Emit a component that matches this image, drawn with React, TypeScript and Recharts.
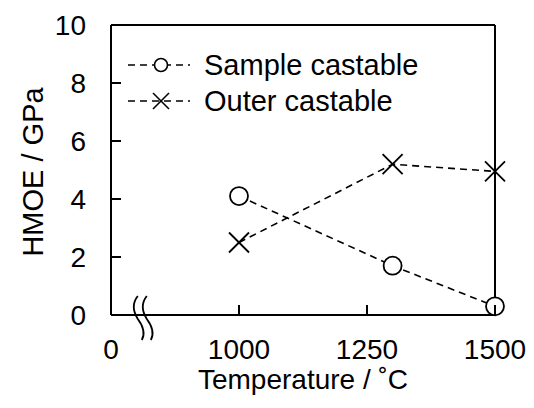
import React from 'react';
import {
  LineChart,
  Line,
  XAxis,
  YAxis,
  Legend,
  ReferenceLine,
  ReferenceDot
} from 'recharts';

// temperatures (°C) and HMOE (GPa)
const temps = [1000, 1300, 1500];
const sampleCastable = [4.1, 1.7, 0.3];
const outerCastable = [2.5, 5.2, 4.95];

// broken x axis: the first tick sits where "0" is printed
const xTicks = [750, 1000, 1250, 1500];
const xTickLabels = ['0', '1000', '1250', '1500'];
const yTicks = [0, 2, 4, 6, 8, 10];
const axisBreakAt = 816;

const seriesNames = ['Sample castable', 'Outer castable'];

const FONT = '"Liberation Sans", Arial, sans-serif';
const FS = 28;

// plot box edges (margin + axis size)
const PLOT_LEFT = 111;
const PLOT_BOTTOM = 315;

const data = temps.map((t, i) => ({
  temp: t,
  sample: sampleCastable[i],
  outer: outerCastable[i]
}));

const CircleDot = (props: any) => {
  const { cx, cy, index } = props;
  if (cx == null || cy == null) return null;
  return <circle key={`c-${index}`} cx={cx} cy={cy} r={9} fill="#fff" stroke="#000" strokeWidth={1.8} />;
};

const CrossDot = (props: any) => {
  const { cx, cy, index } = props;
  if (cx == null || cy == null) return null;
  const s = 10;
  return (
    <g key={`x-${index}`} stroke="#000" strokeWidth={1.8}>
      <line x1={cx - s} y1={cy - s} x2={cx + s} y2={cy + s} />
      <line x1={cx - s} y1={cy + s} x2={cx + s} y2={cy - s} />
    </g>
  );
};

const YTick = (props: any) => {
  const { y, payload } = props;
  return (
    <g>
      <line x1={PLOT_LEFT} y1={y} x2={PLOT_LEFT + 10} y2={y} stroke="#000" strokeWidth={2} />
      <text x={PLOT_LEFT - 25} y={y} dy="0.36em" textAnchor="end" fontFamily={FONT} fontSize={FS} fill="#000">
        {payload.value}
      </text>
    </g>
  );
};

const XTick = (props: any) => {
  const { x, payload, index } = props;
  return (
    <g>
      <line x1={x} y1={PLOT_BOTTOM} x2={x} y2={PLOT_BOTTOM - 10} stroke="#000" strokeWidth={2} />
      <text x={x} y={PLOT_BOTTOM + 44} textAnchor="middle" fontFamily={FONT} fontSize={FS} fill="#000">
        {xTickLabels[index] ?? payload.value}
      </text>
    </g>
  );
};

const AxisBreak = (props: any) => {
  const { cx, cy } = props;
  if (cx == null || cy == null) return null;
  const path = (dx: number) =>
    `M ${cx - 3 + dx} ${cy - 19} Q ${cx - 11 + dx} ${cy - 9} ${cx - 3 + dx} ${cy + 4} Q ${cx + 6 + dx} ${cy + 16} ${cx + 1 + dx} ${cy + 25}`;
  return (
    <g fill="none" stroke="#000" strokeWidth={1.8}>
      <path d={path(-4)} />
      <path d={path(5)} />
    </g>
  );
};

const LegendContent = () => (
  <div style={{ fontFamily: FONT, fontSize: 29, color: '#000', lineHeight: '36px' }}>
    {seriesNames.map((name, i) => (
      <div key={name} style={{ display: 'flex', alignItems: 'center', height: 36 }}>
        <svg width={70} height={24} style={{ marginRight: 8 }}>
          <line x1={2} y1={12} x2={64} y2={12} stroke="#000" strokeWidth={1.6} strokeDasharray="7 5" />
          {i === 0 ? (
            <circle cx={35} cy={12} r={6.5} fill="#fff" stroke="#000" strokeWidth={1.6} />
          ) : (
            <g stroke="#000" strokeWidth={1.6}>
              <line x1={27} y1={4} x2={43} y2={20} />
              <line x1={27} y1={20} x2={43} y2={4} />
            </g>
          )}
        </svg>
        <span>{name}</span>
      </div>
    ))}
  </div>
);

const App: React.FC = () => {
  return (
    <div style={{ position: 'absolute', left: 0, top: 0, background: '#fff' }}>
      <LineChart
        width={534}
        height={408}
        data={data}
        margin={{ top: 25, right: 39, bottom: 33, left: 51 }}
      >
        <XAxis
          dataKey="temp"
          type="number"
          domain={[750, 1500]}
          ticks={xTicks}
          tickLine={false}
          height={60}
          axisLine={{ stroke: '#000', strokeWidth: 2 }}
          tick={<XTick />}
          label={{
            content: (p: any) => {
              const vb = p.viewBox;
              return (
                <text x={vb.x + vb.width / 2} y={PLOT_BOTTOM + 74} textAnchor="middle" fontFamily={FONT} fontSize={FS} fill="#000">
                  Temperature / ˚C
                </text>
              );
            }
          }}
        />
        <YAxis
          type="number"
          domain={[0, 10]}
          ticks={yTicks}
          tickLine={false}
          width={60}
          axisLine={{ stroke: '#000', strokeWidth: 2 }}
          tick={<YTick />}
          label={{
            content: (p: any) => {
              const vb = p.viewBox;
              const lx = PLOT_LEFT - 68;
              const ly = vb.y + vb.height / 2 + 2;
              return (
                <text
                  x={lx}
                  y={ly}
                  transform={`rotate(-90, ${lx}, ${ly})`}
                  textAnchor="middle"
                  fontFamily={FONT}
                  fontSize={29}
                  fill="#000"
                >
                  HMOE / GPa
                </text>
              );
            }
          }}
        />
        <ReferenceLine y={10} stroke="#000" strokeWidth={2} />
        <ReferenceLine x={1500} stroke="#000" strokeWidth={2} />
        <ReferenceDot x={axisBreakAt} y={0} r={0} shape={<AxisBreak />} />
        <Line
          dataKey="sample"
          name={seriesNames[0]}
          stroke="#000"
          strokeWidth={1.6}
          strokeDasharray="7 5"
          dot={<CircleDot />}
          activeDot={false}
          isAnimationActive={false}
        />
        <Line
          dataKey="outer"
          name={seriesNames[1]}
          stroke="#000"
          strokeWidth={1.6}
          strokeDasharray="7 5"
          dot={<CrossDot />}
          activeDot={false}
          isAnimationActive={false}
        />
        <Legend
          layout="horizontal"
          align="center"
          verticalAlign="middle"
          content={<LegendContent />}
          wrapperStyle={{ left: 126, top: 47, width: 'auto' }}
        />
      </LineChart>
    </div>
  );
};

export default App;
